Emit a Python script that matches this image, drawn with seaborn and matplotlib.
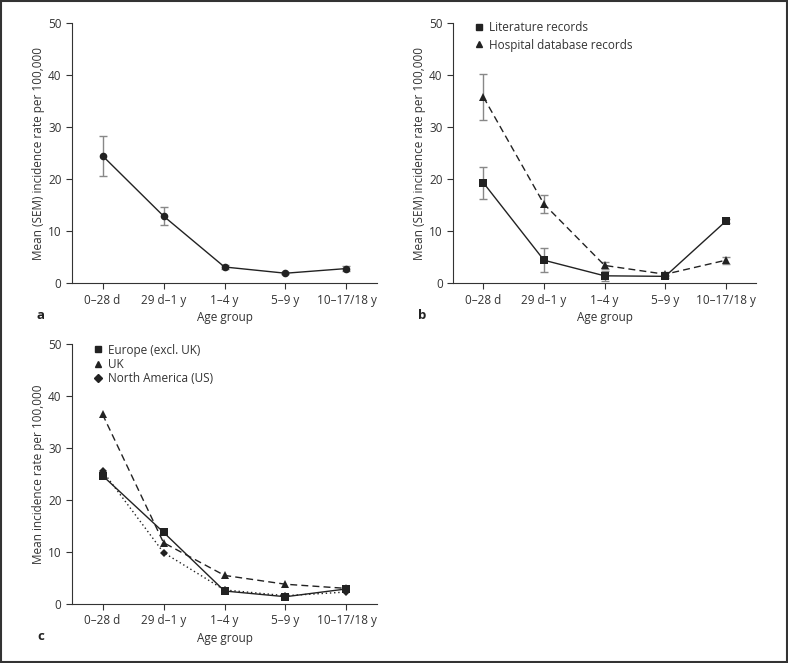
import numpy as np
import pandas as pd
import matplotlib
matplotlib.use("Agg")
import matplotlib.pyplot as plt
import seaborn as sns
from matplotlib.lines import Line2D
from matplotlib.patches import Rectangle

# Data
age_groups = ["0\u201328 d", "29 d\u20131 y", "1\u20134 y", "5\u20139 y", "10\u201317/18 y"]

# panel a: overall
overall_mean = [24.5, 12.9, 3.1, 1.9, 2.8]
overall_sem = [3.8, 1.7, 0.3, 0.2, 0.5]

# panel b: source of records
lit_mean = [19.3, 4.4, 1.4, 1.3, 11.9]
lit_sem = [3.1, 2.3, 0.9, 0.3, 0.4]
hosp_mean = [35.8, 15.2, 3.4, 1.7, 4.4]
hosp_sem = [4.4, 1.7, 0.7, 0.4, 0.7]

# panel c: region
europe_mean = [24.7, 13.8, 2.5, 1.4, 2.9]
uk_mean = [36.5, 11.8, 5.5, 3.8, 3.0]
na_mean = [25.6, 9.9, 2.7, 1.6, 2.3]

sns.set_theme(style="ticks")
plt.rcParams["font.family"] = ["Open Sans", "DejaVu Sans"]
plt.rcParams["font.size"] = 8.5

LINE = "#222222"
ERR = "#888888"
TXT = "#333333"
FS = 8.5
x = np.arange(len(age_groups))


def style_axis(ax, ylabel, letter):
    ax.set_xlim(-0.5, 4.5)
    ax.set_ylim(0, 50)
    ax.set_yticks([0, 10, 20, 30, 40, 50])
    ax.set_xticks(x)
    ax.set_xticklabels(age_groups)
    ax.tick_params(axis="both", labelsize=FS, color=TXT, length=4, width=0.8,
                   labelcolor=TXT, direction="out")
    for s in ["left", "bottom"]:
        ax.spines[s].set_color(TXT)
        ax.spines[s].set_linewidth(0.8)
    sns.despine(ax=ax)
    ax.set_xlabel("Age group", fontsize=FS, color=TXT, labelpad=3)
    ax.set_ylabel(ylabel, fontsize=FS, color=TXT, labelpad=2)
    ax.text(-0.115, -0.125, letter, transform=ax.transAxes, fontsize=9.5,
            fontweight="bold", color="#222222", ha="left", va="center")


def draw(ax, mean, sem, marker, ls, ms):
    df = pd.DataFrame({"x": x, "y": mean})
    if sem is not None:
        ax.errorbar(x, mean, yerr=sem, fmt="none", ecolor=ERR, elinewidth=1.0,
                    capsize=3, capthick=1.0, zorder=2)
    sns.lineplot(data=df, x="x", y="y", ax=ax, color=LINE, linewidth=1.0,
                 linestyle=ls, marker=marker, markersize=ms, markeredgewidth=0,
                 markerfacecolor=LINE, zorder=3)


fig = plt.figure(figsize=(7.88, 6.63), dpi=100)
ax_a = fig.add_axes([0.0914, 0.573, 0.387, 0.392])
ax_b = fig.add_axes([0.575, 0.573, 0.3845, 0.392])
ax_c = fig.add_axes([0.0914, 0.089, 0.387, 0.392])

# a
draw(ax_a, overall_mean, overall_sem, "o", "-", 5.5)
style_axis(ax_a, "Mean (SEM) incidence rate per 100,000", "a")

# b
draw(ax_b, hosp_mean, hosp_sem, "^", (0, (5, 3)), 6)
draw(ax_b, lit_mean, lit_sem, "s", "-", 6)
style_axis(ax_b, "Mean (SEM) incidence rate per 100,000", "b")
handles_b = [Line2D([], [], color=LINE, marker="s", ls="none", ms=5),
             Line2D([], [], color=LINE, marker="^", ls="none", ms=5)]
ax_b.legend(handles_b, ["Literature records", "Hospital database records"],
            loc="upper left", bbox_to_anchor=(0.055, 1.025), frameon=False,
            fontsize=FS, handletextpad=0.45, labelspacing=0.35, borderaxespad=0,
            handlelength=0.8)

# c
draw(ax_c, uk_mean, None, "^", (0, (5, 3)), 6)
draw(ax_c, na_mean, None, "D", (0, (1, 2)), 4.5)
draw(ax_c, europe_mean, None, "s", "-", 6)
style_axis(ax_c, "Mean incidence rate per 100,000", "c")
handles_c = [Line2D([], [], color=LINE, marker="s", ls="none", ms=5),
             Line2D([], [], color=LINE, marker="^", ls="none", ms=5),
             Line2D([], [], color=LINE, marker="D", ls="none", ms=4)]
ax_c.legend(handles_c, ["Europe (excl. UK)", "UK", "North America (US)"],
            loc="upper left", bbox_to_anchor=(0.055, 1.02), frameon=False,
            fontsize=FS, handletextpad=0.45, labelspacing=0.1, borderaxespad=0,
            handlelength=0.8)

for ax in (ax_b, ax_c):
    for t in ax.get_legend().get_texts():
        t.set_color(TXT)

# border around the whole figure
fig.patches.append(Rectangle((0.001, 0.001), 0.998, 0.997, transform=fig.transFigure,
                             fill=False, edgecolor="#333333", linewidth=1.5))

fig.savefig("out.png", dpi=100)
